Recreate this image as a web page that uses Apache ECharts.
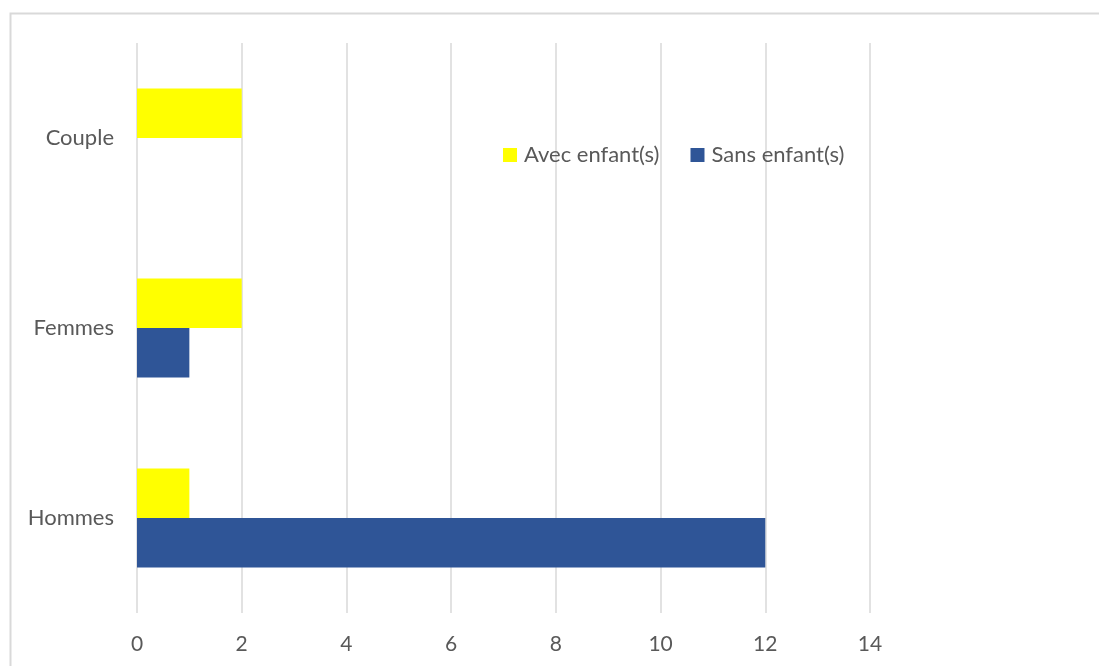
<!DOCTYPE html>
<html>
<head>
<meta charset="utf-8">
<script src="https://cdn.jsdelivr.net/npm/echarts@6/dist/echarts.min.js"></script>
<style>
  html, body { margin: 0; padding: 0; background: #fff; }
  #chart { width: 1099px; height: 666px; }
</style>
</head>
<body>
<div id="chart"></div>
<script>
// Household types (bottom to top on the category axis)
const categories = ['Hommes', 'Femmes', 'Couple'];
// Counts per household type
const avecEnfants = [1, 2, 2];
const sansEnfants = [12, 1, 0];
const seriesNames = ['Avec enfant(s)', 'Sans enfant(s)'];

const textColor = '#595959';
const gridColor = '#d9d9d9';
const fontFamily = 'Lato, Open Sans, sans-serif';

const chart = echarts.init(document.getElementById('chart'), null, { renderer: 'canvas' });

chart.setOption({
  animation: false,
  backgroundColor: '#ffffff',
  graphic: [{
    type: 'rect',
    shape: { x: 10.5, y: 13.5, width: 1200, height: 800 },
    style: { fill: 'none', stroke: gridColor, lineWidth: 2 },
    silent: true,
    z: -1
  }],
  grid: { left: 137, right: 229, top: 43, bottom: 53, containLabel: false },
  legend: {
    data: seriesNames,
    left: 503,
    top: 144,
    padding: 0,
    itemWidth: 14,
    itemHeight: 14,
    itemGap: 31,
    icon: 'rect',
    textStyle: { color: textColor, fontSize: 22, fontFamily: fontFamily, padding: [0, 0, 0, 2] }
  },
  xAxis: {
    type: 'value',
    min: 0,
    max: 14,
    interval: 2,
    axisLine: { show: false },
    axisTick: { show: false },
    splitLine: { show: true, lineStyle: { color: gridColor, width: 1.5 } },
    axisLabel: { color: textColor, fontSize: 21, fontFamily: fontFamily, margin: 21 }
  },
  yAxis: {
    type: 'category',
    data: categories,
    axisLine: { show: false },
    axisTick: { show: false },
    axisLabel: { color: textColor, fontSize: 22, fontFamily: fontFamily, margin: 23 }
  },
  series: [
    {
      name: seriesNames[0],
      type: 'bar',
      data: avecEnfants,
      itemStyle: { color: '#ffff00' },
      barGap: '0%',
      barCategoryGap: '48%'
    },
    {
      name: seriesNames[1],
      type: 'bar',
      data: sansEnfants,
      itemStyle: { color: '#2f5597' },
      barGap: '0%',
      barCategoryGap: '48%'
    }
  ]
});
</script>
</body>
</html>
